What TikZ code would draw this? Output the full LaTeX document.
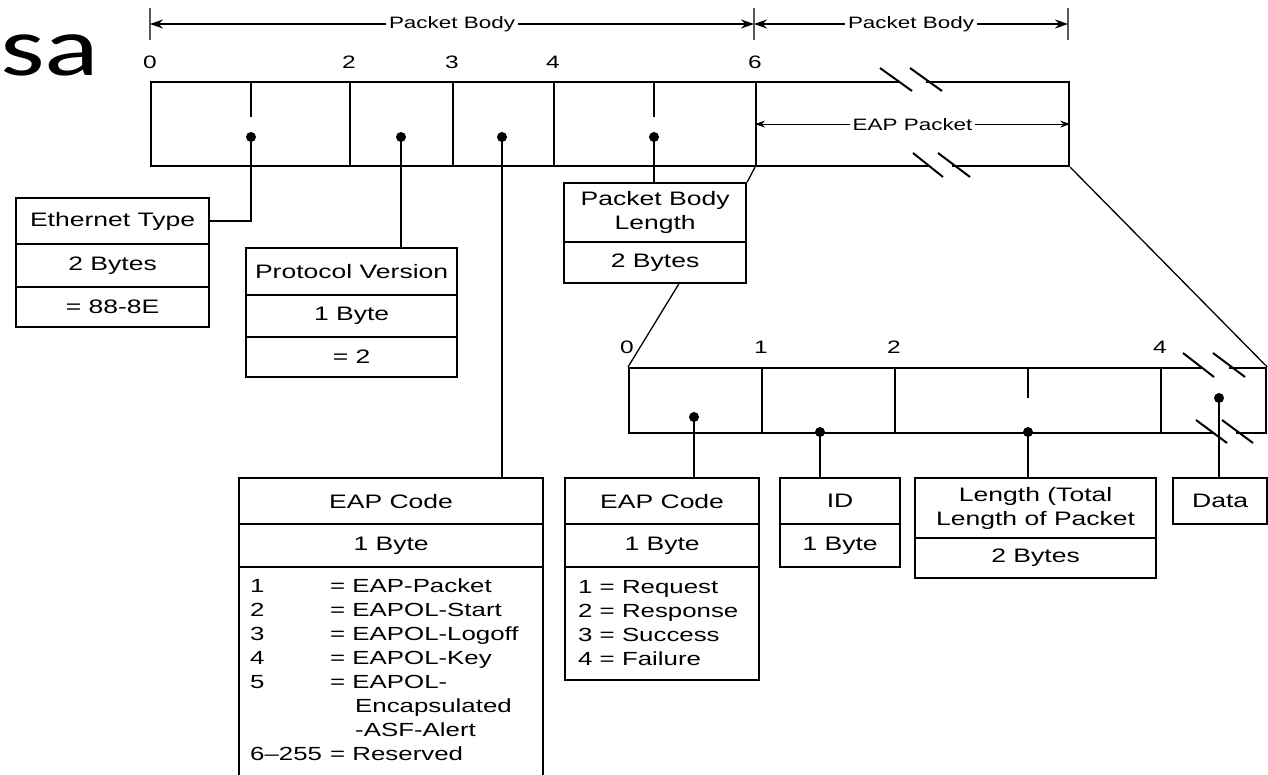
\documentclass[tikz,border=0pt]{standalone}
\usepackage{fontspec}
\usepackage{graphicx}
\setmainfont{Liberation Sans}
\newfontfamily\safont{Carlito}
\usetikzlibrary{arrows.meta}
\newcommand\sx[1]{\scalebox{1.36}[1]{#1}}
\begin{document}
\begin{tikzpicture}[x=1pt,y=-1pt,
  fld/.style={draw, line width=2.2pt, rectangle, inner sep=0pt, anchor=north west},
  cell/.style={fld, font=\fontsize{19.5}{24}\selectfont, align=center},
  conn/.style={line width=1.6pt},
  diag/.style={line width=1.3pt},
  dot/.style={circle, fill, inner sep=0pt, minimum size=10pt},
  num/.style={font=\fontsize{18}{20}\selectfont, inner sep=0pt},
  lbl/.style={font=\fontsize{16.5}{18}\selectfont, fill=white, inner sep=3pt},
  lst/.style={font=\fontsize{19}{22}\selectfont, inner sep=0pt, anchor=base west},
  brk/.style={line width=2pt},
  gap/.style={white, line width=4pt},
  tickline/.style={line width=1.6pt, black!65},
  dimarrow/.style={line width=1.3pt, {Stealth[length=13pt,width=9pt]}-{Stealth[length=13pt,width=9pt]}},
  eaparrow/.style={line width=1.2pt, {Stealth[length=10pt,width=7pt]}-{Stealth[length=10pt,width=7pt]}},
]
\useasboundingbox (0,0) rectangle (1268,774);
\clip (0,0) rectangle (1268,774);
\fill[white] (0,0) rectangle (1268,774);

% stray title fragment
\node[font=\safont\fontsize{84}{88}\selectfont, anchor=base west, inner sep=0pt] (sa) at (0,75) {\sx{sa}};

% top dimension
\draw[tickline] (150,8) -- (150,40);
\draw[tickline] (754,8) -- (754,40);
\draw[tickline] (1068,8) -- (1068,40);
\coordinate (t0) at (150,24);
\coordinate (t1) at (754,24);
\coordinate (t2) at (1068,24);
\draw[dimarrow] (t0) -- node[lbl] (pb1) {\sx{Packet Body}} (t1);
\draw[dimarrow] (t1) -- node[lbl] (pb2) {\sx{Packet Body}} (t2);

% byte numbers top
\node[num] (n0) at (150,62) {\sx{0}};
\node[num] (n2) at (349,62) {\sx{2}};
\node[num] (n3) at (452,62) {\sx{3}};
\node[num] (n4) at (553,62) {\sx{4}};
\node[num] (n6) at (755,62) {\sx{6}};

% top frame
\node[fld, minimum width=199pt, minimum height=84pt] (f1) at (150,81) {};
\node[fld, minimum width=103pt, minimum height=84pt] (f2) at (349,81) {};
\node[fld, minimum width=101pt, minimum height=84pt] (f3) at (452,81) {};
\node[fld, minimum width=202pt, minimum height=84pt] (f4) at (553,81) {};
\node[fld, minimum width=313pt, minimum height=84pt] (f5) at (755,81) {};

% breaks in top frame
\draw[gap] (900,81) -- (926,81);
\draw[gap] (930,165) -- (952,165);
\draw[brk] (880,68) -- (912,91);
\draw[brk] (910,68) -- (942,91);
\draw[brk] (913,153) -- (943,177);
\draw[brk] (938,153) -- (970,177);

\draw[eaparrow] (f5.west) -- node[lbl] (eapp) {\sx{EAP Packet}} (f5.east);

% ticks in fields
\draw[conn] (251,81) -- (251,117);
\draw[conn] (654,81) -- (654,117);

% Ethernet Type box
\node[cell, minimum width=193pt, minimum height=46pt] (eth1) at (15,197) {\sx{Ethernet Type}};
\node[cell, minimum width=193pt, minimum height=43pt] (eth2) at (15,243) {\sx{2 Bytes}};
\node[cell, minimum width=193pt, minimum height=40pt] (eth3) at (15,286) {\sx{= 88-8E}};

% Protocol Version box
\node[cell, minimum width=211pt, minimum height=47pt] (pv1) at (245,247) {\sx{Protocol Version}};
\node[cell, minimum width=211pt, minimum height=42pt] (pv2) at (245,294) {\sx{1 Byte}};
\node[cell, minimum width=211pt, minimum height=40pt] (pv3) at (245,336) {\sx{= 2}};

% Packet Body Length box
\node[cell, minimum width=182pt, minimum height=59pt] (pbl1) at (563,182) {\sx{Packet Body}\\\sx{Length}};
\node[cell, minimum width=182pt, minimum height=41pt] (pbl2) at (563,241) {\sx{2 Bytes}};

% EAP Code (EAPOL) box
\node[cell, minimum width=304pt, minimum height=46pt] (ec1) at (238,477) {\sx{EAP Code}};
\node[cell, minimum width=304pt, minimum height=43pt] (ec2) at (238,523) {\sx{1 Byte}};
\node[fld, minimum width=304pt, minimum height=260pt] (ec3) at (238,566) {};
\foreach \n/\t [count=\i] in {1/= EAP-Packet, 2/= EAPOL-Start, 3/= EAPOL-Logoff, 4/= EAPOL-Key, 5/= EAPOL-}{
  \node[lst] (la\i) at (250,{592+24*(\i-1)}) {\sx{\n}};
  \node[lst] (lb\i) at (330,{592+24*(\i-1)}) {\sx{\t}};
}
\node[lst] (lb6) at (355,712) {\sx{Encapsulated}};
\node[lst] (lb7) at (355,736) {\sx{-ASF-Alert}};
\node[lst] (la8) at (250,760) {\sx{6--255}};
\node[lst] (lb8) at (330,760) {\sx{= Reserved}};

% lower frame
\node[num] (m0) at (627,347) {\sx{0}};
\node[num] (m1) at (761,347) {\sx{1}};
\node[num] (m2) at (894,347) {\sx{2}};
\node[num] (m4) at (1160,347) {\sx{4}};
\node[fld, minimum width=133pt, minimum height=65pt] (g1) at (628,367) {};
\node[fld, minimum width=133pt, minimum height=65pt] (g2) at (761,367) {};
\node[fld, minimum width=266pt, minimum height=65pt] (g3) at (894,367) {};
\node[fld, minimum width=105pt, minimum height=65pt] (g4) at (1160,367) {};
\draw[gap] (1203,367) -- (1229,367);
\draw[gap] (1214,432) -- (1236,432);
\draw[brk] (1183,353) -- (1214,377);
\draw[brk] (1213,353) -- (1245,377);
\draw[brk] (1196,420) -- (1227,443);
\draw[brk] (1222,420) -- (1253,443);
\draw[conn] (1028,367) -- (1028,398);

% EAP packet field boxes
\node[cell, minimum width=194pt, minimum height=46pt] (rc1) at (564,477) {\sx{EAP Code}};
\node[cell, minimum width=194pt, minimum height=43pt] (rc2) at (564,523) {\sx{1 Byte}};
\node[fld, minimum width=194pt, minimum height=113pt] (rc3) at (564,566) {};
\foreach \t [count=\i] in {1 = Request, 2 = Response, 3 = Success, 4 = Failure}{
  \node[lst] (r\i) at (578,{593+24*(\i-1)}) {\sx{\t}};
}
\node[cell, minimum width=120pt, minimum height=46pt] (id1) at (779,477) {\sx{ID}};
\node[cell, minimum width=120pt, minimum height=43pt] (id2) at (779,523) {\sx{1 Byte}};
\node[cell, minimum width=241pt, minimum height=60pt] (ln1) at (914,477) {\sx{Length (Total}\\\sx{Length of Packet}};
\node[cell, minimum width=241pt, minimum height=40pt] (ln2) at (914,537) {\sx{2 Bytes}};
\node[cell, minimum width=94pt, minimum height=46pt] (dt1) at (1172,477) {\sx{Data}};

% dots
\node[dot] (d1) at (251,137) {};
\node[dot] (d2) at (401,137) {};
\node[dot] (d3) at (502,137) {};
\node[dot] (d4) at (654,137) {};
\node[dot] (e1) at (694,417) {};
\node[dot] (e2) at (820,432) {};
\node[dot] (e3) at (1028,432) {};
\node[dot] (e4) at (1219,398) {};

% connectors
\draw[conn] (d1.center) |- (eth1.east);
\draw[conn] (d2.center) -- (d2.center |- pv1.north);
\draw[conn] (d3.center) -- (d3.center |- ec1.north);
\draw[conn] (d4.center) -- (d4.center |- pbl1.north);
\draw[conn] (e1.center) -- (e1.center |- rc1.north);
\draw[conn] (e2.center) -- (e2.center |- id1.north);
\draw[conn] (e3.center) -- (e3.center |- ln1.north);
\draw[conn] (e4.center) -- (e4.center |- dt1.north);

% expansion lines
\coordinate (pblb) at (680,282);
\draw[diag] (f5.south west) -- (pbl1.north east);
\draw[diag] (pblb) -- (g1.north west);
\draw[diag] (f5.south east) -- (g4.north east);
\end{tikzpicture}
\end{document}
